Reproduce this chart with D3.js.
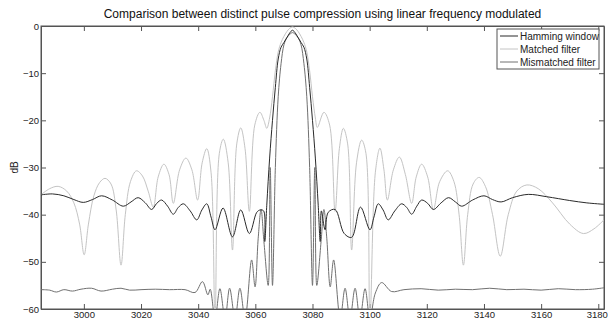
<!DOCTYPE html>
<html>
<head>
<meta charset="utf-8">
<script src="https://cdn.jsdelivr.net/npm/d3@7"></script>
<style>
  body { margin: 0; background: #fff; }
  text { font-family: "Liberation Sans", Arial, sans-serif; }
</style>
</head>
<body>
<div id="chart"></div>
<script>
const W = 608, H = 322;
const margin = { top: 26, right: 4, bottom: 13, left: 41 };

const xTicks = [3000, 3020, 3040, 3060, 3080, 3100, 3120, 3140, 3160, 3180];
const yTicks = [0, -10, -20, -30, -40, -50, -60];

// Hamming window
const hammingX = [2985, 2989, 2993, 2996.5, 2999.8, 3003, 3006.2, 3010, 3013.8, 3016.5, 3019, 3021.5, 3023.7, 3025.5, 3027.2, 3029.3, 3031.3, 3033, 3034.8, 3037.2, 3039.5, 3041.3, 3043, 3044.5,
  3045.9, 3048.7, 3052, 3054.9, 3057.9, 3060.5, 3061.7, 3062.9, 3063.3,
  3064, 3065, 3066, 3067, 3068, 3069, 3070, 3071, 3072, 3073, 3074, 3075, 3076, 3077, 3078, 3079, 3080, 3081, 3082, 3082.7,
  3083.1, 3084.4, 3085.5, 3087.9, 3091.1, 3093.7, 3096.8, 3100.1, 3101.5, 3103, 3104.7, 3106.5, 3108.8, 3111.2, 3113, 3114.7, 3116.5, 3118.2, 3120.3, 3122.3, 3125, 3127.6, 3130, 3132.2,
  3136, 3140, 3143, 3146, 3150, 3155.5, 3162, 3170, 3176, 3182];
const hammingY = [-35.8, -35.6, -36.0, -36.8, -37.4, -36.8, -36.0, -36.9, -38.2, -37.3, -36.4, -37.5, -38.9, -37.6, -36.9, -38.2, -39.9, -38.5, -37.7, -39.2, -41.1, -39.0, -37.7, -40.5,
  -43.2, -38.6, -44.7, -39.0, -44.0, -39.5, -39.0, -39.2, -45.7,
  -38, -28, -20, -13, -7, -4.5, -3.5, -2.5, -1.5, -0.9, -1.5, -2.5, -3.5, -4.5, -7, -13, -20, -28, -38, -45.7,
  -39.2, -43.2, -39.5, -38.9, -44.0, -44.8, -38.4, -43.2, -40.5, -37.7, -39.0, -41.1, -39.2, -37.7, -38.5, -39.9, -38.2, -36.9, -37.6, -38.9, -37.5, -36.4, -37.3, -38.2,
  -36.9, -36.0, -36.8, -37.3, -36.4, -35.7, -36.2, -37.0, -37.5, -37.8];

// Matched filter
const matchedX = [2985, 2988, 2991, 2994, 2996.5, 2998.5, 3000.1, 3001.6, 3003.5, 3005.5, 3007.4, 3009.5, 3011.3, 3013, 3014.5, 3016.3, 3018.4, 3020.5, 3022.5, 3024.3,
  3026, 3028, 3029.8, 3031.3, 3033.5, 3035.7, 3037.8, 3039.8, 3041.4, 3043, 3044.5, 3045.9, 3047.4, 3048.8, 3050.5, 3052, 3053.5, 3054.9, 3056.4, 3057.9, 3059.8, 3061.6, 3063, 3064,
  3065, 3066, 3067, 3068, 3069, 3070, 3071, 3072, 3073, 3074, 3075, 3076, 3077, 3078, 3079, 3080, 3081, 3081.7,
  3084, 3086, 3087.9, 3089.4, 3090.8, 3092.3, 3093.7, 3095.4, 3097.2, 3098.7, 3100.1, 3102, 3103.6, 3105, 3106.2, 3108.3, 3110.4, 3112.5, 3114.7, 3116.3, 3118.2, 3120.3, 3122.3,
  3124.5, 3127.3, 3129.5, 3131.3, 3132.8, 3134.3, 3136.2, 3138.3, 3140.5, 3143, 3145.7, 3148.5, 3151.5, 3155, 3159, 3164, 3170, 3174.8, 3178.5, 3182];
const matchedY = [-35.8, -34.5, -34.0, -35.0, -37.5, -42.0, -48.5, -42.0, -36.0, -33.2, -32.3, -33.5, -39.0, -50.7, -40.0, -33.0, -30.7, -31.8, -35.0, -38.4,
  -32.0, -29.3, -31.5, -37.6, -30.5, -28.0, -30.5, -36.9, -29.0, -26.0, -31.0, -62, -27.0, -24.0, -29.0, -47.5, -25.0, -21.6, -26.0, -39.3, -21.0, -18.3, -20.0, -21.7,
  -19.5, -15, -9.5, -5.5, -3.5, -2.2, -1.2, -0.5, -0.2, -0.5, -1.2, -2.2, -3.5, -5.5, -9.5, -15, -19.5, -21.5,
  -18.3, -21.0, -39.3, -26.0, -21.7, -25.0, -47.5, -29.0, -24.2, -27.0, -62, -31.0, -25.9, -30.5, -36.9, -30.5, -27.8, -31.5, -37.6, -32.0, -29.3, -32.0, -38.9,
  -33.0, -30.7, -33.0, -40.0, -50.7, -40.0, -33.5, -32.1, -34.0, -40.0, -48.8, -40.0, -35.0, -33.7, -34.5, -37.5, -42.0, -44.0, -43.0, -41.1];

// Mismatched filter
const mismatchX = [2985, 2988, 2990.4, 2993, 2996, 2999, 3002.7, 3006, 3010, 3013, 3016, 3020, 3025, 3030, 3035.4, 3038.9, 3041.5, 3043.4,
  3044.2, 3045.9, 3047.6, 3049.4, 3051, 3052.9, 3054.6, 3056.4, 3058.7, 3059.9, 3061, 3062, 3063, 3064.5, 3065.2,
  3066, 3067, 3068, 3069, 3070, 3071, 3072, 3073, 3074, 3075, 3076, 3077, 3078, 3079, 3080, 3080.8,
  3081.5, 3083, 3084, 3085, 3086.2, 3087.4, 3089.7, 3091.4, 3093.1, 3094.9, 3096.6, 3098.4, 3100.1, 3102, 3104.2, 3107.7, 3112, 3118, 3124, 3130, 3136, 3142, 3148, 3154, 3160, 3166, 3172, 3178, 3182];
const mismatchY = [-55.9, -56.0, -56.4, -55.9, -56.2, -55.8, -55.6, -56.2, -55.8, -55.6, -56.0, -55.9, -55.8, -55.9, -55.9, -56.5, -54.2, -57.0,
  -55.8, -62, -55.7, -62, -55.6, -62, -55.6, -62, -49.6, -55.3, -45, -38.9, -45.7, -55, -30,
  -55, -30, -15, -8, -4, -2.5, -1.8, -1.4, -1.8, -2.5, -4, -8, -15, -30, -55, -30,
  -55, -45.7, -38.9, -45, -55.3, -49.6, -62, -55.6, -62, -55.6, -62, -55.7, -62, -56.6, -54.4, -56.3, -55.9, -55.7, -56.0, -55.8, -55.9, -55.6, -55.9, -55.8, -56.0, -55.7, -55.9, -55.8, -55.5];

const svg = d3.select("#chart").append("svg")
  .attr("width", W)
  .attr("height", H);

const x = d3.scaleLinear().domain([2985, 3182]).range([margin.left, W - margin.right]);
const y = d3.scaleLinear().domain([-60, 0]).range([H - margin.bottom, margin.top]);

svg.append("defs").append("clipPath").attr("id", "plotclip")
  .append("rect")
  .attr("x", margin.left).attr("y", margin.top)
  .attr("width", W - margin.left - margin.right)
  .attr("height", H - margin.top - margin.bottom);

// axes, matlab style: ticks pointing inward, mirrored on top/right
const tickLen = 5;
const xAxis = svg.append("g")
  .attr("transform", `translate(0,${H - margin.bottom})`)
  .call(d3.axisBottom(x).tickValues(xTicks).tickFormat(d3.format("d")).tickSizeInner(-tickLen).tickSizeOuter(0).tickPadding(2));
svg.append("g")
  .attr("transform", `translate(0,${margin.top})`)
  .call(d3.axisTop(x).tickValues(xTicks).tickSizeInner(-tickLen).tickSizeOuter(0).tickFormat(""));
svg.append("g")
  .attr("transform", `translate(${margin.left},0)`)
  .call(d3.axisLeft(y).tickValues(yTicks).tickSizeInner(-tickLen).tickSizeOuter(0).tickPadding(2));
svg.append("g")
  .attr("transform", `translate(${W - margin.right},0)`)
  .call(d3.axisRight(y).tickValues(yTicks).tickSizeInner(-tickLen).tickSizeOuter(0).tickFormat(""));

svg.selectAll(".domain").attr("stroke", "#555");
svg.selectAll(".tick line").attr("stroke", "#555");
svg.selectAll(".tick text").attr("font-size", 9.5).attr("fill", "#222")
  .attr("font-family", "'Liberation Sans', Arial, sans-serif");
// last x label sits right at the window edge
xAxis.selectAll(".tick text").filter(d => d === 3180).attr("dx", -1.5);

svg.append("rect")
  .attr("x", margin.left).attr("y", margin.top)
  .attr("width", W - margin.left - margin.right)
  .attr("height", H - margin.top - margin.bottom)
  .attr("fill", "none").attr("stroke", "#555");

const series = [
  { name: "Hamming window", xs: hammingX, ys: hammingY, color: "#2a2a2a" },
  { name: "Matched filter", xs: matchedX, ys: matchedY, color: "#c4c4c4" },
  { name: "Mismatched filter", xs: mismatchX, ys: mismatchY, color: "#707070" }
];

const line = d3.line().x(d => x(d[0])).y(d => y(d[1])).curve(d3.curveCatmullRom.alpha(0.5));
const plot = svg.append("g").attr("clip-path", "url(#plotclip)");

// draw order: mismatched, matched, hamming on top
[series[2], series[1], series[0]].forEach(s => {
  plot.append("path")
    .datum(s.xs.map((v, i) => [v, s.ys[i]]))
    .attr("d", line)
    .attr("fill", "none")
    .attr("stroke", s.color)
    .attr("stroke-width", 1);
});

// title
svg.append("text")
  .attr("x", (margin.left + W - margin.right) / 2)
  .attr("y", 18)
  .attr("text-anchor", "middle")
  .attr("font-size", 12)
  .attr("fill", "#111")
  .text("Comparison between distinct pulse compression using linear frequency modulated");

// y label
svg.append("text")
  .attr("transform", `translate(18,${(margin.top + H - margin.bottom) / 2}) rotate(-90)`)
  .attr("text-anchor", "middle")
  .attr("font-size", 10)
  .attr("fill", "#222")
  .text("dB");

// legend
const lg = svg.append("g").attr("transform", "translate(497,29)");
lg.append("rect").attr("width", 102).attr("height", 40)
  .attr("fill", "#fff").attr("stroke", "#555");
series.forEach((s, i) => {
  const yy = 7 + i * 13;
  lg.append("line").attr("x1", 3).attr("x2", 21).attr("y1", yy).attr("y2", yy)
    .attr("stroke", s.color).attr("stroke-width", 1);
  lg.append("text").attr("x", 23).attr("y", yy + 3.5)
    .attr("font-size", 10).attr("fill", "#222").text(s.name);
});
</script>
</body>
</html>
